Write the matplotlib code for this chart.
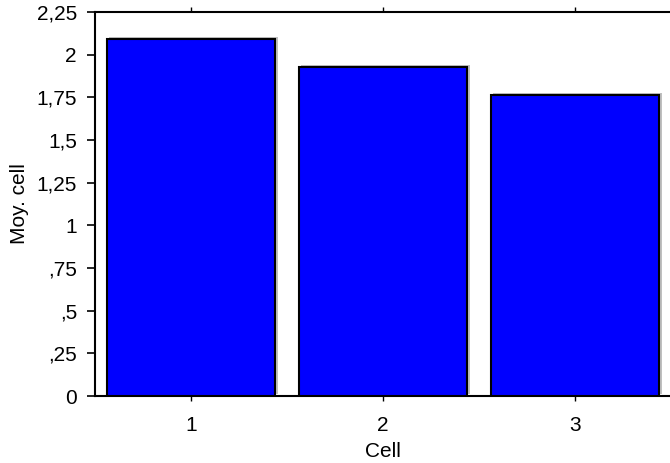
import matplotlib
matplotlib.use("Agg")
import matplotlib.pyplot as plt
import matplotlib.patheffects as pe

categories = ["1", "2", "3"]
values = [2.09, 1.928, 1.761]
yticks = [0, 0.25, 0.5, 0.75, 1, 1.25, 1.5, 1.75, 2, 2.25]
ytick_labels = ["0", ",25", ",5", ",75", "1", "1,25", "1,5", "1,75", "2", "2,25"]

plt.rcParams['font.family'] = ['Liberation Sans', 'DejaVu Sans']
plt.rcParams['font.size'] = 15

fig = plt.figure(figsize=(6.70, 4.63), dpi=100)
ax = fig.add_axes([95/670, 1-396/463, 576/670, 384/463])

x = list(range(1, len(categories) + 1))
bars = ax.bar(x, values, width=0.88, color='#0000ff', edgecolor='black', linewidth=1.5,
              zorder=3)
for b in bars:
    b.set_path_effects([pe.SimplePatchShadow(offset=(1.5, 1.5), shadow_rgbFace='gray', alpha=0.5),
                        pe.Normal()])

ax.set_xlim(0.5, 3.5)
ax.set_ylim(0, 2.25)
ax.set_xticks(x)
ax.set_xticklabels(categories)
ax.set_yticks(yticks)
ax.set_yticklabels(ytick_labels)
ax.tick_params(axis='y', direction='out', length=6, width=1.2, pad=7)
ax.tick_params(axis='x', direction='out', length=3.5, width=1, pad=11, top=True)
for s in ['left', 'bottom', 'top']:
    ax.spines[s].set_linewidth(1.5)
ax.spines['right'].set_visible(False)

ax.set_xlabel("Cell", labelpad=5)
ax.set_ylabel("Moy. cell", labelpad=5)

fig.savefig("out.png", dpi=100)
